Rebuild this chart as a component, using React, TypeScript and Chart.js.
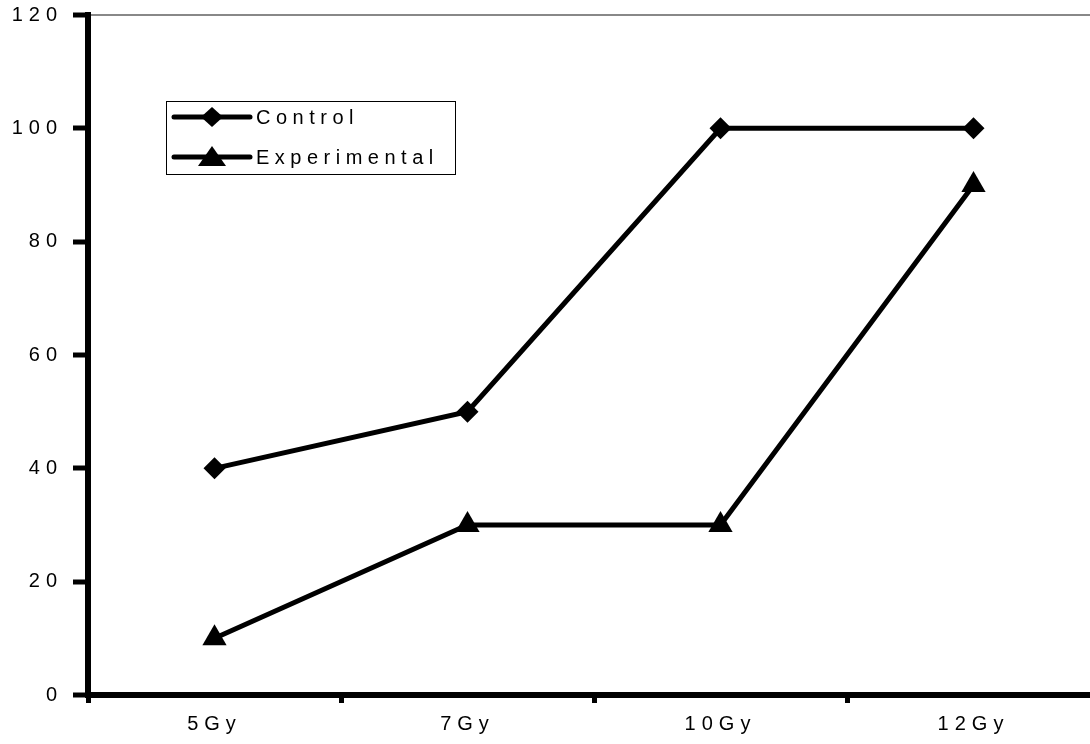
import React, { useEffect, useRef } from 'react';
import { Chart, registerables } from 'chart.js';

Chart.register(...registerables);

const categories = ['5Gy', '7Gy', '10Gy', '12Gy'];
const controlValues = [40, 50, 100, 100];
const experimentalValues = [10, 30, 30, 90];
const yTicks = [0, 20, 40, 60, 80, 100, 120];
const seriesNames = ['Control', 'Experimental'];

const FONT = "'Liberation Sans', Arial, sans-serif";

const spacingPlugin = {
  id: 'spacing',
  beforeUpdate(chart: any) {
    chart.ctx.letterSpacing = '6px';
  },
  beforeDraw(chart: any) {
    chart.ctx.letterSpacing = '6px';
  },
};

const legendPlugin = {
  id: 'boxLegend',
  afterDraw(chart: any) {
    const ctx = chart.ctx as CanvasRenderingContext2D;
    ctx.save();
    ctx.strokeStyle = '#000';
    ctx.lineWidth = 1;
    ctx.strokeRect(166.5, 101.5, 289, 73);
    const rows = [117, 157];
    chart.data.datasets.forEach((ds: any, i: number) => {
      const y = rows[i];
      ctx.strokeStyle = '#000';
      ctx.lineWidth = 5;
      ctx.lineCap = 'round';
      ctx.beginPath();
      ctx.moveTo(174, y);
      ctx.lineTo(250, y);
      ctx.stroke();
      ctx.fillStyle = '#000';
      ctx.beginPath();
      const cx = 212;
      if (ds.pointStyle === 'rectRot') {
        const r = ds.pointRadius;
        ctx.moveTo(cx - r, y);
        ctx.lineTo(cx, y - r * 0.9);
        ctx.lineTo(cx + r, y);
        ctx.lineTo(cx, y + r * 0.9);
      } else {
        ctx.moveTo(cx - 14, y + 9);
        ctx.lineTo(cx, y - 11);
        ctx.lineTo(cx + 14, y + 9);
      }
      ctx.closePath();
      ctx.fill();
      (ctx as any).letterSpacing = '5.5px';
      ctx.font = `20px ${FONT}`;
      ctx.textBaseline = 'middle';
      ctx.textAlign = 'left';
      ctx.fillText(ds.label, 256, y + 1);
    });
    ctx.restore();
  },
};

export default function App() {
  const ref = useRef<HTMLCanvasElement>(null);

  useEffect(() => {
    if (!ref.current) return;
    const chart = new Chart(ref.current, {
      type: 'line',
      data: {
        labels: categories,
        datasets: [
          {
            label: seriesNames[0],
            data: controlValues,
            borderColor: '#000',
            backgroundColor: '#000',
            borderWidth: 5,
            pointStyle: 'rectRot',
            pointRadius: 11,
            pointBackgroundColor: '#000',
            pointBorderColor: '#000',
            pointBorderWidth: 0,
            tension: 0,
          },
          {
            label: seriesNames[1],
            data: experimentalValues,
            borderColor: '#000',
            backgroundColor: '#000',
            borderWidth: 5,
            pointStyle: 'triangle',
            pointRadius: 14,
            pointBackgroundColor: '#000',
            pointBorderColor: '#000',
            pointBorderWidth: 0,
            tension: 0,
          },
        ],
      },
      options: {
        responsive: false,
        animation: false,
        devicePixelRatio: 1,
        layout: { padding: { top: 15, right: 0, left: 0, bottom: 0 } },
        plugins: {
          legend: { display: false },
          tooltip: { enabled: false },
        },
        scales: {
          x: {
            offset: true,
            afterFit: (s: any) => {
              s.height = 49;
            },
            border: { display: true, color: '#000', width: 6 },
            grid: {
              offset: true,
              drawOnChartArea: false,
              drawTicks: true,
              tickLength: 8,
              tickWidth: 5,
              tickColor: '#000',
            },
            ticks: {
              color: '#000',
              padding: 9,
              font: { family: FONT, size: 20 },
              maxRotation: 0,
            },
          },
          y: {
            min: 0,
            max: 120,
            afterFit: (s: any) => {
              s.width = 88;
              s.paddingTop = 0;
              s.paddingBottom = 0;
            },
            afterBuildTicks: (s: any) => {
              s.ticks = yTicks.map((v) => ({ value: v }));
            },
            border: { display: true, color: '#000', width: 6 },
            grid: {
              drawOnChartArea: true,
              drawTicks: true,
              tickLength: 15,
              tickWidth: 5,
              tickColor: '#000',
              color: (c: any) => (c.tick && c.tick.value === 120 ? '#888' : 'rgba(0,0,0,0)'),
              lineWidth: (c: any) => (c.tick && c.tick.value === 120 ? 2 : 0),
            },
            ticks: {
              color: '#000',
              padding: 10,
              font: { family: FONT, size: 20 },
            },
          },
        },
      },
      plugins: [spacingPlugin, legendPlugin],
    });
    return () => chart.destroy();
  }, []);

  return (
    <div
      style={{
        position: 'absolute',
        left: 0,
        top: 0,
        width: 1090,
        height: 744,
        overflow: 'hidden',
        background: '#fff',
      }}
    >
      <div style={{ width: 1114, height: 744 }}>
        <canvas
          ref={ref}
          width={1114}
          height={744}
          style={{ display: 'block', width: 1114, height: 744 }}
        />
      </div>
    </div>
  );
}
